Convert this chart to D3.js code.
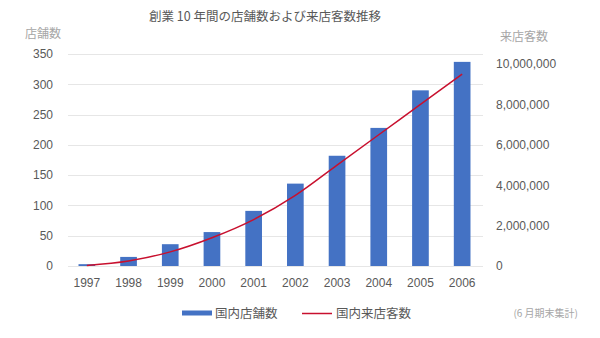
<!DOCTYPE html>
<html>
<head>
<meta charset="utf-8">
<script src="https://cdn.jsdelivr.net/npm/d3@7"></script>
<style>
  body { margin: 0; background: #fff; }
  svg { display: block; font-family: "Noto Sans CJK JP", "Noto Sans", sans-serif; }
  .tick text { fill: #595959; font-size: 12px; }
</style>
</head>
<body>
<div id="chart"></div>
<script>
// data
var years = ["1997", "1998", "1999", "2000", "2001", "2002", "2003", "2004", "2005", "2006"];
var storeCounts = [3, 15, 36, 56, 91, 136, 182, 228, 290, 337];
var visitors = [30000, 250000, 700000, 1400000, 2300000, 3500000, 5000000, 6500000, 8000000, 9500000];
var leftTicks = [0, 50, 100, 150, 200, 250, 300, 350];
var rightTicks = [0, 2000000, 4000000, 6000000, 8000000, 10000000];

var W = 600, H = 338;
var margin = { top: 54, right: 117, bottom: 72, left: 66 };
var width = W - margin.left - margin.right;
var height = H - margin.top - margin.bottom;

var barColor = "#4472c4";
var lineColor = "#c8102e";

var svg = d3.select("#chart").append("svg")
  .attr("width", W)
  .attr("height", H);

var g = svg.append("g")
  .attr("transform", "translate(" + margin.left + "," + margin.top + ")");

var x = d3.scaleBand().domain(years).range([0, width]).paddingInner(0.6).paddingOuter(0.3);
var yLeft = d3.scaleLinear().domain([0, 350]).range([height, 0]);
var yRight = d3.scaleLinear().domain([0, 10500000]).range([height, 0]);

// gridlines
g.selectAll(".grid")
  .data(leftTicks)
  .enter().append("line")
  .attr("class", "grid")
  .attr("x1", 2)
  .attr("x2", width)
  .attr("y1", function (d) { return Math.round(yLeft(d)) + 0.5; })
  .attr("y2", function (d) { return Math.round(yLeft(d)) + 0.5; })
  .attr("stroke", "#e6e6e6")
  .attr("stroke-width", 1);

// left axis
var axL = g.append("g")
  .call(d3.axisLeft(yLeft).tickValues(leftTicks).tickSize(0).tickPadding(13));
axL.select(".domain").remove();

// right axis
var axR = g.append("g")
  .attr("transform", "translate(" + (width + 13) + ",0)")
  .call(d3.axisRight(yRight).tickValues(rightTicks).tickSize(0).tickPadding(0)
    .tickFormat(d3.format(",")));
axR.select(".domain").remove();

// x axis
var axX = g.append("g")
  .attr("transform", "translate(0," + height + ")")
  .call(d3.axisBottom(x).tickSize(0).tickPadding(12));
axX.select(".domain").remove();

// bars
g.selectAll(".bar")
  .data(storeCounts)
  .enter().append("rect")
  .attr("class", "bar")
  .attr("x", function (d, i) { return x(years[i]); })
  .attr("y", function (d) { return yLeft(d); })
  .attr("width", x.bandwidth())
  .attr("height", function (d) { return height - yLeft(d); })
  .attr("fill", barColor);

// visitor line
var line = d3.line()
  .x(function (d, i) { return x(years[i]) + x.bandwidth() / 2; })
  .y(function (d) { return yRight(d); })
  .curve(d3.curveMonotoneX);

g.append("path")
  .datum(visitors)
  .attr("d", line)
  .attr("fill", "none")
  .attr("stroke", lineColor)
  .attr("stroke-width", 1.5);

// titles
svg.append("text")
  .attr("x", 265).attr("y", 21)
  .attr("text-anchor", "middle")
  .attr("fill", "#595959")
  .style("font-size", "12.5px")
  .text("創業 10 年間の店舗数および来店客数推移");

svg.append("text")
  .attr("x", 25).attr("y", 38)
  .attr("fill", "#a6a6a6")
  .style("font-size", "12px")
  .text("店舗数");

svg.append("text")
  .attr("x", 500).attr("y", 41)
  .attr("fill", "#a6a6a6")
  .style("font-size", "12px")
  .text("来店客数");

// legend
var lg = svg.append("g").attr("transform", "translate(0,313)");
lg.append("rect")
  .attr("x", 182).attr("y", -2.5)
  .attr("width", 30).attr("height", 5)
  .attr("fill", barColor);
lg.append("text")
  .attr("x", 215).attr("y", 4.5)
  .attr("fill", "#595959")
  .style("font-size", "12.5px")
  .text("国内店舗数");
lg.append("line")
  .attr("x1", 302).attr("x2", 332)
  .attr("y1", 0.5).attr("y2", 0.5)
  .attr("stroke", lineColor)
  .attr("stroke-width", 1.5);
lg.append("text")
  .attr("x", 336).attr("y", 4.5)
  .attr("fill", "#595959")
  .style("font-size", "12.5px")
  .text("国内来店客数");

svg.append("text")
  .attr("x", 578).attr("y", 317)
  .attr("text-anchor", "end")
  .attr("fill", "#a6a6a6")
  .style("font-size", "10px")
  .text("(6 月期末集計)");
</script>
</body>
</html>
